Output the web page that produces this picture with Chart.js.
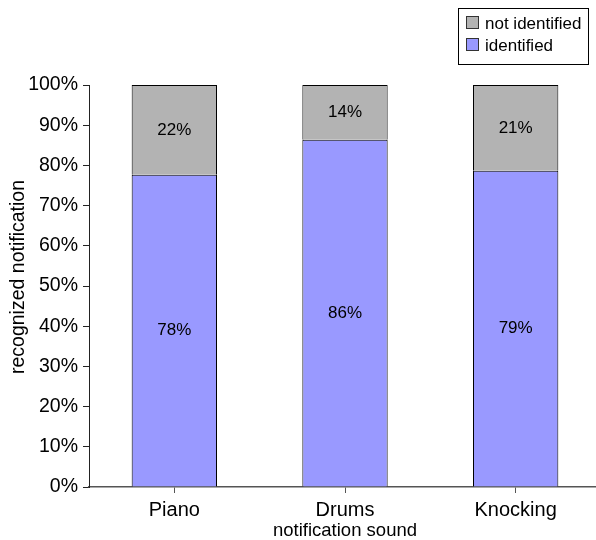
<!DOCTYPE html>
<html>
<head>
<meta charset="utf-8">
<script src="https://cdn.jsdelivr.net/npm/chart.js@4/dist/chart.umd.min.js"></script>
<style>
html, body { margin: 0; padding: 0; background: #fff; overflow: hidden; }
</style>
</head>
<body>
<!-- plot runs a few px past the right edge, like the original -->
<canvas id="chart" width="601" height="540"></canvas>
<script>
var sounds = ["Piano", "Drums", "Knocking"];
var identified = [77.7, 86.4, 78.7];
var notIdentified = [22.3, 13.6, 21.3];
var yTicks = [0, 10, 20, 30, 40, 50, 60, 70, 80, 90, 100];
var yTitle = 'recognized notification';

var font = "'Liberation Sans', Arial, sans-serif";

// percent labels in the middle of each segment
var valueLabels = {
    id: 'valueLabels',
    afterDatasetsDraw: function (chart) {
        var ctx = chart.ctx;
        ctx.save();
        ctx.font = '17px ' + font;
        ctx.fillStyle = '#000';
        ctx.textAlign = 'center';
        ctx.textBaseline = 'middle';
        chart.data.datasets.forEach(function (ds, i) {
            chart.getDatasetMeta(i).data.forEach(function (bar, j) {
                ctx.fillText(Math.round(ds.data[j]) + '%', bar.x, (bar.y + bar.base) / 2);
            });
        });
        ctx.restore();
    }
};

// boxed legend top right, y axis title sits a bit above the middle
var extras = {
    id: 'extras',
    afterDraw: function (chart) {
        var ctx = chart.ctx;
        var items = chart.data.datasets.slice().reverse();
        ctx.save();
        ctx.strokeStyle = '#000';
        ctx.lineWidth = 1;
        ctx.strokeRect(458.5, 8.5, 130, 56);
        ctx.font = '17px ' + font;
        ctx.textBaseline = 'middle';
        ctx.textAlign = 'left';
        items.forEach(function (ds, i) {
            var cy = 23 + i * 22;
            ctx.fillStyle = ds.backgroundColor;
            ctx.fillRect(466.5, cy - 6.5, 12, 12);
            ctx.strokeStyle = '#333';
            ctx.strokeRect(466.5, cy - 6.5, 12, 12);
            ctx.fillStyle = '#000';
            ctx.fillText(ds.label, 485, cy + 1);
        });

        ctx.translate(19, 277);
        ctx.rotate(-Math.PI / 2);
        ctx.font = '19.5px ' + font;
        ctx.textAlign = 'center';
        ctx.fillText(yTitle, 0, 0);
        ctx.restore();
    }
};

var ctx = document.getElementById('chart').getContext('2d');
var chart = new Chart(ctx, {
    type: 'bar',
    data: {
        labels: sounds,
        datasets: [{
            label: 'identified',
            data: identified,
            backgroundColor: '#9999ff',
            borderColor: '#000',
            borderWidth: 1,
            barPercentage: 0.5,
            categoryPercentage: 1
        }, {
            label: 'not identified',
            data: notIdentified,
            backgroundColor: '#b3b3b3',
            borderColor: '#000',
            borderWidth: 1,
            barPercentage: 0.5,
            categoryPercentage: 1
        }]
    },
    options: {
        responsive: false,
        devicePixelRatio: 1,
        animation: false,
        layout: { padding: { top: 85, right: 0, left: 0, bottom: 0 } },
        plugins: {
            legend: { display: false },
            tooltip: { enabled: false }
        },
        scales: {
            x: {
                stacked: true,
                grid: { offset: false, drawOnChartArea: false, tickLength: 6, color: '#555' },
                border: { color: '#555', width: 1.5 },
                ticks: { color: '#000', font: { family: font, size: 20 }, padding: 5, maxRotation: 0 },
                title: { display: true, text: 'notification sound', color: '#000', font: { family: font, size: 18.5, lineHeight: 1 }, padding: 0 },
                afterFit: function (scale) { scale.height = 53; }
            },
            y: {
                stacked: true,
                min: 0,
                max: 100,
                afterBuildTicks: function (scale) {
                    scale.ticks = yTicks.map(function (v) { return { value: v }; });
                },
                grid: { drawOnChartArea: false, tickLength: 6, color: '#222' },
                border: { color: '#222' },
                ticks: {
                    color: '#000',
                    font: { family: font, size: 19.5 },
                    padding: 5,
                    callback: function (v) { return v + '%'; }
                },
                afterFit: function (scale) { scale.width = 89; }
            }
        }
    },
    plugins: [valueLabels, extras]
});
</script>
</body>
</html>
